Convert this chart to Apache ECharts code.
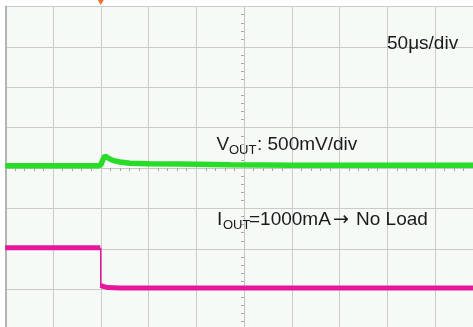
<!DOCTYPE html>
<html><head><meta charset="utf-8">
<script src="https://cdn.jsdelivr.net/npm/echarts@6/dist/echarts.min.js"></script>
<style>html,body{margin:0;padding:0;background:#fff;overflow:hidden}#c{width:473px;height:327px}</style>
</head><body><div id="c"></div>
<script>
// time axis in divisions (50µs/div), centre = 0
const voutX = [-5, -4, -3.05, -3.0, -2.95, -2.91, -2.86, -2.75, -2.6, -2.39, -2.0, -1.34, -0.29, 1, 3, 5];
const voutY = [0.06, 0.06, 0.06, 0.08, 0.22, 0.30, 0.26, 0.19, 0.15, 0.12, 0.11, 0.10, 0.08, 0.07, 0.07, 0.07];
const ioutX = [-5, -3.01, null, -3.0, -2.95, -2.85, -2.6, 5];
const ioutY = [-1.97, -1.97, null, -2.9, -2.93, -2.96, -2.97, -2.97];
const stepX = [-3.0, -3.0];
const stepY = [-1.97, -2.95];
const trigger = [-3, 4];

const pairs = (xs, ys) => xs.map((x, i) => (x === null ? [null, null] : [x, ys[i]]));

const chart = echarts.init(document.getElementById('c'), null, {renderer: 'canvas'});
const font = '"Liberation Sans", Arial, sans-serif';
const txt = (text, x, y, size, fam) => ({type: 'text', z: 10,
  style: {text, x, y, font: size + 'px ' + (fam || font), fill: '#1a1a1a', verticalAlign: 'middle'}});
chart.setOption({
  animation: false,
  backgroundColor: '#ffffff',
  grid: {left: 5.25, top: 6.6, width: 477.5, height: 323, outerBoundsMode: 'none',
         show: true, backgroundColor: '#f5faf7', borderWidth: 0},
  xAxis: {
    type: 'value', min: -5, max: 5, interval: 1,
    axisLine: {show: true, onZero: true, lineStyle: {color: '#c6c6c6', width: 1}},
    axisTick: {show: false},
    minorTick: {show: true, splitNumber: 5, length: 3, lineStyle: {color: '#a8a8a8'}},
    axisLabel: {show: false},
    splitLine: {show: true, lineStyle: {color: '#cbcbcb', width: 1}}
  },
  yAxis: [{
    type: 'value', min: -4, max: 4, interval: 1,
    axisLine: {show: true, onZero: true, lineStyle: {color: '#c6c6c6', width: 1}},
    axisTick: {show: false},
    minorTick: {show: true, splitNumber: 5, length: 3, lineStyle: {color: '#a8a8a8'}},
    axisLabel: {show: false},
    splitLine: {show: true, lineStyle: {color: '#cbcbcb', width: 1}}
  }, {
    type: 'value', min: -4, max: 4, position: 'left',
    axisLine: {show: true, onZero: false, lineStyle: {color: '#b4b4b4', width: 2}},
    axisTick: {show: false}, axisLabel: {show: false}, splitLine: {show: false}
  }],
  series: [
    {type: 'line', data: pairs(voutX, voutY), symbol: 'none', smooth: false,
     lineStyle: {color: '#28dc28', width: 5.5}, z: 5,
     markPoint: {symbol: 'triangle', symbolRotate: 180, symbolSize: [6, 5], symbolOffset: [0, -4],
       itemStyle: {color: '#e8742a'}, label: {show: false}, data: [{coord: trigger}]}},
    {type: 'line', data: pairs(ioutX, ioutY), symbol: 'none', connectNulls: false,
     lineStyle: {color: '#e6179c', width: 5}, z: 5},
    {type: 'line', data: pairs(stepX, stepY), symbol: 'none',
     lineStyle: {color: '#e6179c', width: 1.5}, z: 5}
  ],
  graphic: [
    txt('50μs/div', 387, 43.7, 19),
    txt('V', 216.5, 145, 19),
    txt('OUT', 229, 150.5, 13),
    txt(': 500mV/div', 257, 145, 19),
    txt('I', 217, 220, 19),
    txt('OUT', 223, 225.5, 13),
    txt('=1000mA', 249, 220, 19),
    txt('→', 333, 220, 19, '"DejaVu Sans", sans-serif'),
    txt('No Load', 356, 220, 19)
  ]
});
</script></body></html>
